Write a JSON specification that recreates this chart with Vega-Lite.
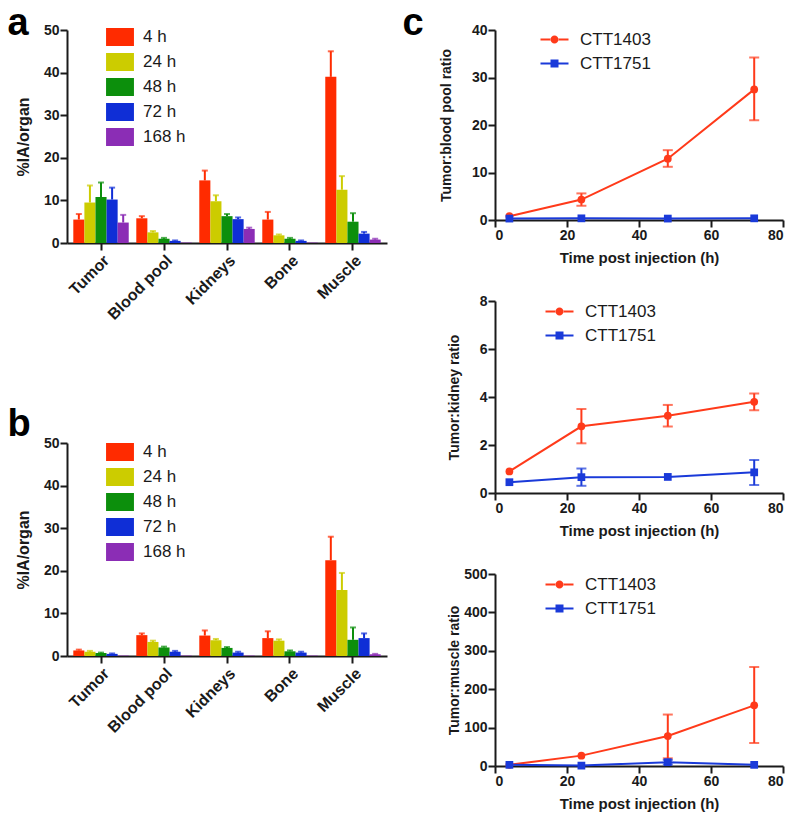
{
  "$schema": "https://vega.github.io/schema/vega-lite/v6.json",
  "padding": {"left": 7, "top": 5, "right": 2, "bottom": 5},
  "config": {
    "font": "Liberation Sans",
    "view": {"stroke": null},
    "scale": {"continuousPadding": 0},
    "axis": {
      "grid": false, "domainColor": "#1a1a1a", "domainWidth": 2, "tickColor": "#1a1a1a", "tickWidth": 2, "tickSize": 7,
      "labelFont": "Liberation Sans", "labelFontWeight": "bold", "labelFontSize": 14, "labelColor": "#1a1a1a", "labelPadding": 1,
      "titleFont": "Liberation Sans", "titleFontWeight": "bold", "titleFontSize": 15, "titleColor": "#1a1a1a"
    },
    "legend": {"labelFont": "Liberation Sans", "labelColor": "#1a1a1a", "padding": 0, "symbolOpacity": 1},
    "title": {"font": "Liberation Sans", "fontSize": 38, "fontWeight": "bold", "color": "#000000", "anchor": "start"}
  },
  "datasets": {
    "bars": [
      {"panel": "a", "organ": "Tumor", "time": "4 h", "value": 5.5, "upper": 6.8},
      {"panel": "a", "organ": "Tumor", "time": "24 h", "value": 9.5, "upper": 13.5},
      {"panel": "a", "organ": "Tumor", "time": "48 h", "value": 10.8, "upper": 14.2},
      {"panel": "a", "organ": "Tumor", "time": "72 h", "value": 10.2, "upper": 13.0},
      {"panel": "a", "organ": "Tumor", "time": "168 h", "value": 4.8, "upper": 6.6},
      {"panel": "a", "organ": "Blood pool", "time": "4 h", "value": 5.8, "upper": 6.3},
      {"panel": "a", "organ": "Blood pool", "time": "24 h", "value": 2.5, "upper": 2.8},
      {"panel": "a", "organ": "Blood pool", "time": "48 h", "value": 1.0, "upper": 1.2},
      {"panel": "a", "organ": "Blood pool", "time": "72 h", "value": 0.5, "upper": 0.6},
      {"panel": "a", "organ": "Blood pool", "time": "168 h", "value": 0.1, "upper": null},
      {"panel": "a", "organ": "Kidneys", "time": "4 h", "value": 14.7, "upper": 17.0},
      {"panel": "a", "organ": "Kidneys", "time": "24 h", "value": 9.8, "upper": 11.2},
      {"panel": "a", "organ": "Kidneys", "time": "48 h", "value": 6.3, "upper": 6.8},
      {"panel": "a", "organ": "Kidneys", "time": "72 h", "value": 5.6, "upper": 6.0},
      {"panel": "a", "organ": "Kidneys", "time": "168 h", "value": 3.3, "upper": 3.6},
      {"panel": "a", "organ": "Bone", "time": "4 h", "value": 5.5, "upper": 7.3},
      {"panel": "a", "organ": "Bone", "time": "24 h", "value": 1.8, "upper": 2.0},
      {"panel": "a", "organ": "Bone", "time": "48 h", "value": 1.0, "upper": 1.2},
      {"panel": "a", "organ": "Bone", "time": "72 h", "value": 0.5, "upper": 0.6},
      {"panel": "a", "organ": "Bone", "time": "168 h", "value": 0.1, "upper": null},
      {"panel": "a", "organ": "Muscle", "time": "4 h", "value": 39.0, "upper": 45.0},
      {"panel": "a", "organ": "Muscle", "time": "24 h", "value": 12.5, "upper": 15.7},
      {"panel": "a", "organ": "Muscle", "time": "48 h", "value": 5.0, "upper": 7.0},
      {"panel": "a", "organ": "Muscle", "time": "72 h", "value": 2.2, "upper": 2.6},
      {"panel": "a", "organ": "Muscle", "time": "168 h", "value": 0.8, "upper": 1.0},
      {"panel": "b", "organ": "Tumor", "time": "4 h", "value": 1.3, "upper": 1.5},
      {"panel": "b", "organ": "Tumor", "time": "24 h", "value": 1.0, "upper": 1.2},
      {"panel": "b", "organ": "Tumor", "time": "48 h", "value": 0.7, "upper": 0.8},
      {"panel": "b", "organ": "Tumor", "time": "72 h", "value": 0.5, "upper": 0.6},
      {"panel": "b", "organ": "Tumor", "time": "168 h", "value": 0.1, "upper": null},
      {"panel": "b", "organ": "Blood pool", "time": "4 h", "value": 4.9, "upper": 5.3},
      {"panel": "b", "organ": "Blood pool", "time": "24 h", "value": 3.3, "upper": 3.6},
      {"panel": "b", "organ": "Blood pool", "time": "48 h", "value": 2.0, "upper": 2.2},
      {"panel": "b", "organ": "Blood pool", "time": "72 h", "value": 1.0, "upper": 1.2},
      {"panel": "b", "organ": "Blood pool", "time": "168 h", "value": 0.1, "upper": null},
      {"panel": "b", "organ": "Kidneys", "time": "4 h", "value": 4.8, "upper": 6.0},
      {"panel": "b", "organ": "Kidneys", "time": "24 h", "value": 3.7, "upper": 4.0},
      {"panel": "b", "organ": "Kidneys", "time": "48 h", "value": 1.9, "upper": 2.1},
      {"panel": "b", "organ": "Kidneys", "time": "72 h", "value": 0.8, "upper": 1.0},
      {"panel": "b", "organ": "Kidneys", "time": "168 h", "value": 0.1, "upper": null},
      {"panel": "b", "organ": "Bone", "time": "4 h", "value": 4.2, "upper": 5.8},
      {"panel": "b", "organ": "Bone", "time": "24 h", "value": 3.6, "upper": 3.9},
      {"panel": "b", "organ": "Bone", "time": "48 h", "value": 1.1, "upper": 1.3},
      {"panel": "b", "organ": "Bone", "time": "72 h", "value": 0.8, "upper": 1.0},
      {"panel": "b", "organ": "Bone", "time": "168 h", "value": 0.1, "upper": null},
      {"panel": "b", "organ": "Muscle", "time": "4 h", "value": 22.5, "upper": 28.0},
      {"panel": "b", "organ": "Muscle", "time": "24 h", "value": 15.5, "upper": 19.5},
      {"panel": "b", "organ": "Muscle", "time": "48 h", "value": 3.8, "upper": 6.7},
      {"panel": "b", "organ": "Muscle", "time": "72 h", "value": 4.2, "upper": 5.3},
      {"panel": "b", "organ": "Muscle", "time": "168 h", "value": 0.4, "upper": 0.5}
    ],
    "ratios": [
      {"metric": "blood", "series": "CTT1403", "hours": 4, "value": 0.8, "lo": null, "hi": null},
      {"metric": "blood", "series": "CTT1403", "hours": 24, "value": 4.3, "lo": 3.0, "hi": 5.6},
      {"metric": "blood", "series": "CTT1403", "hours": 48, "value": 12.9, "lo": 11.2, "hi": 14.7},
      {"metric": "blood", "series": "CTT1403", "hours": 72, "value": 27.5, "lo": 21.0, "hi": 34.2},
      {"metric": "blood", "series": "CTT1751", "hours": 4, "value": 0.3, "lo": null, "hi": null},
      {"metric": "blood", "series": "CTT1751", "hours": 24, "value": 0.35, "lo": null, "hi": null},
      {"metric": "blood", "series": "CTT1751", "hours": 48, "value": 0.3, "lo": null, "hi": null},
      {"metric": "blood", "series": "CTT1751", "hours": 72, "value": 0.35, "lo": null, "hi": null},
      {"metric": "kidney", "series": "CTT1403", "hours": 4, "value": 0.9, "lo": null, "hi": null},
      {"metric": "kidney", "series": "CTT1403", "hours": 24, "value": 2.78, "lo": 2.07, "hi": 3.5},
      {"metric": "kidney", "series": "CTT1403", "hours": 48, "value": 3.22, "lo": 2.77, "hi": 3.67},
      {"metric": "kidney", "series": "CTT1403", "hours": 72, "value": 3.8, "lo": 3.45, "hi": 4.15},
      {"metric": "kidney", "series": "CTT1751", "hours": 4, "value": 0.45, "lo": null, "hi": null},
      {"metric": "kidney", "series": "CTT1751", "hours": 24, "value": 0.66, "lo": 0.3, "hi": 1.02},
      {"metric": "kidney", "series": "CTT1751", "hours": 48, "value": 0.67, "lo": null, "hi": null},
      {"metric": "kidney", "series": "CTT1751", "hours": 72, "value": 0.86, "lo": 0.33, "hi": 1.38},
      {"metric": "muscle", "series": "CTT1403", "hours": 4, "value": 3, "lo": null, "hi": null},
      {"metric": "muscle", "series": "CTT1403", "hours": 24, "value": 27, "lo": null, "hi": null},
      {"metric": "muscle", "series": "CTT1403", "hours": 48, "value": 78, "lo": 20, "hi": 134},
      {"metric": "muscle", "series": "CTT1403", "hours": 72, "value": 158, "lo": 60, "hi": 258},
      {"metric": "muscle", "series": "CTT1751", "hours": 4, "value": 3, "lo": null, "hi": null},
      {"metric": "muscle", "series": "CTT1751", "hours": 24, "value": 1, "lo": null, "hi": null},
      {"metric": "muscle", "series": "CTT1751", "hours": 48, "value": 10, "lo": 4, "hi": 16},
      {"metric": "muscle", "series": "CTT1751", "hours": 72, "value": 3, "lo": null, "hi": null}
    ]
  },
  "resolve": {"scale": {"color": "independent", "shape": "independent", "fill": "independent", "stroke": "independent"}, "legend": {"color": "independent", "shape": "independent"}},
  "spacing": 15,
  "hconcat": [
    {
      "spacing": 83,
      "resolve": {"scale": {"color": "independent"}, "legend": {"color": "independent"}},
      "vconcat": [
        {
          "title": {"text": "a", "dx": -8, "offset": -20},
          "width": 320, "height": 213,
          "data": {"name": "bars"},
          "transform": [{"filter": "datum.panel == 'a'"}],
          "encoding": {
            "x": {"field": "organ", "type": "nominal", "sort": ["Tumor", "Blood pool", "Kidneys", "Bone", "Muscle"], "scale": {"paddingInner": 0.12, "paddingOuter": 0.1}, "axis": {"title": null, "labelAngle": -45, "labelFontSize": 16, "labelPadding": 2}},
            "xOffset": {"field": "time", "type": "nominal", "sort": ["4 h", "24 h", "48 h", "72 h", "168 h"], "scale": {"paddingInner": 0, "paddingOuter": 0}},
            "color": {"field": "time", "type": "nominal", "sort": ["4 h", "24 h", "48 h", "72 h", "168 h"],
              "scale": {"domain": ["4 h", "24 h", "48 h", "72 h", "168 h"], "range": ["#ff2b00", "#cccc00", "#0c8f0c", "#0f2ed6", "#8b2db5"]},
              "legend": {"orient": "none", "legendX": 44, "legendY": -2, "title": null, "symbolType": "M-1.55,-1H1.55V1H-1.55Z", "symbolSize": 324, "symbolStrokeWidth": 0, "labelOffset": 14, "labelFontSize": 17, "rowPadding": 7}}
          },
          "layer": [
            {"mark": {"type": "bar"}, "encoding": {"y": {"field": "value", "type": "quantitative", "scale": {"domain": [0, 50]}, "axis": {"values": [0, 10, 20, 30, 40, 50], "title": "%IA/organ", "titleFontSize": 16, "titlePadding": 12}}}},
            {"mark": {"type": "rule", "strokeWidth": 2}, "encoding": {"y": {"field": "value", "type": "quantitative", "axis": {"values": [0, 10, 20, 30, 40, 50], "title": "%IA/organ", "titleFontSize": 16, "titlePadding": 12}}, "y2": {"field": "upper"}}},
            {"mark": {"type": "tick", "thickness": 2, "size": 6, "orient": "horizontal"}, "encoding": {"y": {"field": "upper", "type": "quantitative", "axis": {"values": [0, 10, 20, 30, 40, 50], "title": "%IA/organ", "titleFontSize": 16, "titlePadding": 12}}}}
          ]
        },
        {
          "title": {"text": "b", "dx": -8, "offset": -8},
          "width": 320, "height": 213,
          "data": {"name": "bars"},
          "transform": [{"filter": "datum.panel == 'b'"}],
          "encoding": {
            "x": {"field": "organ", "type": "nominal", "sort": ["Tumor", "Blood pool", "Kidneys", "Bone", "Muscle"], "scale": {"paddingInner": 0.12, "paddingOuter": 0.1}, "axis": {"title": null, "labelAngle": -45, "labelFontSize": 16, "labelPadding": 2}},
            "xOffset": {"field": "time", "type": "nominal", "sort": ["4 h", "24 h", "48 h", "72 h", "168 h"], "scale": {"paddingInner": 0, "paddingOuter": 0}},
            "color": {"field": "time", "type": "nominal", "sort": ["4 h", "24 h", "48 h", "72 h", "168 h"],
              "scale": {"domain": ["4 h", "24 h", "48 h", "72 h", "168 h"], "range": ["#ff2b00", "#cccc00", "#0c8f0c", "#0f2ed6", "#8b2db5"]},
              "legend": {"orient": "none", "legendX": 44, "legendY": 0, "title": null, "symbolType": "M-1.55,-1H1.55V1H-1.55Z", "symbolSize": 324, "symbolStrokeWidth": 0, "labelOffset": 14, "labelFontSize": 17, "rowPadding": 7}}
          },
          "layer": [
            {"mark": {"type": "bar"}, "encoding": {"y": {"field": "value", "type": "quantitative", "scale": {"domain": [0, 50]}, "axis": {"values": [0, 10, 20, 30, 40, 50], "title": "%IA/organ", "titleFontSize": 16, "titlePadding": 12}}}},
            {"mark": {"type": "rule", "strokeWidth": 2}, "encoding": {"y": {"field": "value", "type": "quantitative", "axis": {"values": [0, 10, 20, 30, 40, 50], "title": "%IA/organ", "titleFontSize": 16, "titlePadding": 12}}, "y2": {"field": "upper"}}},
            {"mark": {"type": "tick", "thickness": 2, "size": 6, "orient": "horizontal"}, "encoding": {"y": {"field": "upper", "type": "quantitative", "axis": {"values": [0, 10, 20, 30, 40, 50], "title": "%IA/organ", "titleFontSize": 16, "titlePadding": 12}}}}
          ]
        }
      ]
    },
    {
      "spacing": 29,
      "resolve": {"scale": {"color": "independent", "shape": "independent", "fill": "independent", "stroke": "independent"}, "legend": {"color": "independent", "shape": "independent"}},
      "vconcat": [
        {
          "title": {"text": "c", "dx": -37, "offset": -20},
          "width": 288, "height": 190,
          "data": {"name": "ratios"},
          "transform": [{"filter": "datum.metric == 'blood'"}],
          "encoding": {
            "x": {"field": "hours", "type": "quantitative", "scale": {"domain": [0, 80]}, "axis": {"values": [0, 20, 40, 60, 80], "title": "Time post injection (h)", "titleFontSize": 15, "titlePadding": 8}}
          },
          "layer": [
            {"mark": {"type": "line", "strokeWidth": 2}, "encoding": {"y": {"field": "value", "type": "quantitative", "scale": {"domain": [0, 40]}, "axis": {"values": [0, 10, 20, 30, 40], "title": "Tumor:blood pool ratio", "titleFontSize": 14, "titlePadding": 18}}, "stroke": {"field": "series", "type": "nominal", "scale": {"range": ["#ff3a1a", "#1a3ad9"]}, "legend": null}}},
            {"mark": {"type": "rule", "strokeWidth": 2}, "encoding": {"y": {"field": "lo", "type": "quantitative", "axis": {"values": [0, 10, 20, 30, 40], "title": "Tumor:blood pool ratio", "titleFontSize": 14, "titlePadding": 18}}, "y2": {"field": "hi"}, "stroke": {"field": "series", "type": "nominal", "legend": null}}},
            {"mark": {"type": "tick", "thickness": 2, "size": 10, "orient": "horizontal"}, "encoding": {"y": {"field": "lo", "type": "quantitative", "axis": {"values": [0, 10, 20, 30, 40], "title": "Tumor:blood pool ratio", "titleFontSize": 14, "titlePadding": 18}}, "fill": {"field": "series", "type": "nominal", "scale": {"range": ["#ff3a1a", "#1a3ad9"]}, "legend": null}}},
            {"mark": {"type": "tick", "thickness": 2, "size": 10, "orient": "horizontal"}, "encoding": {"y": {"field": "hi", "type": "quantitative", "axis": {"values": [0, 10, 20, 30, 40], "title": "Tumor:blood pool ratio", "titleFontSize": 14, "titlePadding": 18}}, "fill": {"field": "series", "type": "nominal", "legend": null}}},
            {"transform": [{"filter": "datum.series == 'CTT1403'"}], "mark": {"type": "point", "shape": "circle", "filled": true, "size": 60, "opacity": 1}, "encoding": {"y": {"field": "value", "type": "quantitative", "axis": {"values": [0, 10, 20, 30, 40], "title": "Tumor:blood pool ratio", "titleFontSize": 14, "titlePadding": 18}}, "fill": {"field": "series", "type": "nominal", "legend": null}}},
            {"transform": [{"filter": "datum.series == 'CTT1751'"}], "mark": {"type": "point", "shape": "square", "filled": true, "size": 60, "opacity": 1}, "encoding": {"y": {"field": "value", "type": "quantitative", "axis": {"values": [0, 10, 20, 30, 40], "title": "Tumor:blood pool ratio", "titleFontSize": 14, "titlePadding": 18}}, "fill": {"field": "series", "type": "nominal", "legend": null}}},
            {"transform": [{"filter": "false"}], "mark": {"type": "point", "filled": true, "size": 64, "opacity": 1},
              "encoding": {
                "y": {"field": "value", "type": "quantitative", "axis": {"values": [0, 10, 20, 30, 40], "title": "Tumor:blood pool ratio", "titleFontSize": 14, "titlePadding": 18}},
                "color": {"field": "series", "type": "nominal", "scale": {"domain": ["CTT1403", "CTT1751"], "range": ["#ff3a1a", "#1a3ad9"]}, "legend": {"orient": "none", "legendX": 51, "legendY": 1, "title": null, "symbolSize": 64, "symbolStrokeWidth": 0, "labelOffset": 17, "labelFontSize": 17, "rowPadding": 6}},
                "shape": {"field": "series", "type": "nominal", "scale": {"domain": ["CTT1403", "CTT1751"], "range": ["M-3.5,-0.25H-0.9V0.25H-3.5ZM0.9,-0.25H3.5V0.25H0.9ZM-1,0A1,1 0 1,0 1,0A1,1 0 1,0 -1,0Z", "M-3.5,-0.25H-0.9V0.25H-3.5ZM0.9,-0.25H3.5V0.25H0.9ZM-1,-1H1V1H-1Z"]}, "legend": {"orient": "none", "legendX": 51, "legendY": 1, "title": null, "symbolSize": 64, "symbolStrokeWidth": 0, "labelOffset": 17, "labelFontSize": 17, "rowPadding": 6}}
              }}
          ]
        },
        {
          "width": 288, "height": 192,
          "data": {"name": "ratios"},
          "transform": [{"filter": "datum.metric == 'kidney'"}],
          "encoding": {
            "x": {"field": "hours", "type": "quantitative", "scale": {"domain": [0, 80]}, "axis": {"values": [0, 20, 40, 60, 80], "title": "Time post injection (h)", "titleFontSize": 15, "titlePadding": 8}}
          },
          "layer": [
            {"mark": {"type": "line", "strokeWidth": 2}, "encoding": {"y": {"field": "value", "type": "quantitative", "scale": {"domain": [0, 8]}, "axis": {"values": [0, 2, 4, 6, 8], "title": "Tumor:kidney ratio", "titleFontSize": 14, "titlePadding": 18}}, "stroke": {"field": "series", "type": "nominal", "scale": {"range": ["#ff3a1a", "#1a3ad9"]}, "legend": null}}},
            {"mark": {"type": "rule", "strokeWidth": 2}, "encoding": {"y": {"field": "lo", "type": "quantitative", "axis": {"values": [0, 2, 4, 6, 8], "title": "Tumor:kidney ratio", "titleFontSize": 14, "titlePadding": 18}}, "y2": {"field": "hi"}, "stroke": {"field": "series", "type": "nominal", "legend": null}}},
            {"mark": {"type": "tick", "thickness": 2, "size": 10, "orient": "horizontal"}, "encoding": {"y": {"field": "lo", "type": "quantitative", "axis": {"values": [0, 2, 4, 6, 8], "title": "Tumor:kidney ratio", "titleFontSize": 14, "titlePadding": 18}}, "fill": {"field": "series", "type": "nominal", "scale": {"range": ["#ff3a1a", "#1a3ad9"]}, "legend": null}}},
            {"mark": {"type": "tick", "thickness": 2, "size": 10, "orient": "horizontal"}, "encoding": {"y": {"field": "hi", "type": "quantitative", "axis": {"values": [0, 2, 4, 6, 8], "title": "Tumor:kidney ratio", "titleFontSize": 14, "titlePadding": 18}}, "fill": {"field": "series", "type": "nominal", "legend": null}}},
            {"transform": [{"filter": "datum.series == 'CTT1403'"}], "mark": {"type": "point", "shape": "circle", "filled": true, "size": 60, "opacity": 1}, "encoding": {"y": {"field": "value", "type": "quantitative", "axis": {"values": [0, 2, 4, 6, 8], "title": "Tumor:kidney ratio", "titleFontSize": 14, "titlePadding": 18}}, "fill": {"field": "series", "type": "nominal", "legend": null}}},
            {"transform": [{"filter": "datum.series == 'CTT1751'"}], "mark": {"type": "point", "shape": "square", "filled": true, "size": 60, "opacity": 1}, "encoding": {"y": {"field": "value", "type": "quantitative", "axis": {"values": [0, 2, 4, 6, 8], "title": "Tumor:kidney ratio", "titleFontSize": 14, "titlePadding": 18}}, "fill": {"field": "series", "type": "nominal", "legend": null}}},
            {"transform": [{"filter": "false"}], "mark": {"type": "point", "filled": true, "size": 64, "opacity": 1},
              "encoding": {
                "y": {"field": "value", "type": "quantitative", "axis": {"values": [0, 2, 4, 6, 8], "title": "Tumor:kidney ratio", "titleFontSize": 14, "titlePadding": 18}},
                "color": {"field": "series", "type": "nominal", "scale": {"domain": ["CTT1403", "CTT1751"], "range": ["#ff3a1a", "#1a3ad9"]}, "legend": {"orient": "none", "legendX": 56, "legendY": 2, "title": null, "symbolSize": 64, "symbolStrokeWidth": 0, "labelOffset": 17, "labelFontSize": 17, "rowPadding": 6}},
                "shape": {"field": "series", "type": "nominal", "scale": {"domain": ["CTT1403", "CTT1751"], "range": ["M-3.5,-0.25H-0.9V0.25H-3.5ZM0.9,-0.25H3.5V0.25H0.9ZM-1,0A1,1 0 1,0 1,0A1,1 0 1,0 -1,0Z", "M-3.5,-0.25H-0.9V0.25H-3.5ZM0.9,-0.25H3.5V0.25H0.9ZM-1,-1H1V1H-1Z"]}, "legend": {"orient": "none", "legendX": 56, "legendY": 2, "title": null, "symbolSize": 64, "symbolStrokeWidth": 0, "labelOffset": 17, "labelFontSize": 17, "rowPadding": 6}}
              }}
          ]
        },
        {
          "width": 288, "height": 192,
          "data": {"name": "ratios"},
          "transform": [{"filter": "datum.metric == 'muscle'"}],
          "encoding": {
            "x": {"field": "hours", "type": "quantitative", "scale": {"domain": [0, 80]}, "axis": {"values": [0, 20, 40, 60, 80], "title": "Time post injection (h)", "titleFontSize": 15, "titlePadding": 8}}
          },
          "layer": [
            {"mark": {"type": "line", "strokeWidth": 2}, "encoding": {"y": {"field": "value", "type": "quantitative", "scale": {"domain": [0, 500]}, "axis": {"values": [0, 100, 200, 300, 400, 500], "title": "Tumor:muscle ratio", "titleFontSize": 14, "titlePadding": 2}}, "stroke": {"field": "series", "type": "nominal", "scale": {"range": ["#ff3a1a", "#1a3ad9"]}, "legend": null}}},
            {"mark": {"type": "rule", "strokeWidth": 2}, "encoding": {"y": {"field": "lo", "type": "quantitative", "axis": {"values": [0, 100, 200, 300, 400, 500], "title": "Tumor:muscle ratio", "titleFontSize": 14, "titlePadding": 2}}, "y2": {"field": "hi"}, "stroke": {"field": "series", "type": "nominal", "legend": null}}},
            {"mark": {"type": "tick", "thickness": 2, "size": 10, "orient": "horizontal"}, "encoding": {"y": {"field": "lo", "type": "quantitative", "axis": {"values": [0, 100, 200, 300, 400, 500], "title": "Tumor:muscle ratio", "titleFontSize": 14, "titlePadding": 2}}, "fill": {"field": "series", "type": "nominal", "scale": {"range": ["#ff3a1a", "#1a3ad9"]}, "legend": null}}},
            {"mark": {"type": "tick", "thickness": 2, "size": 10, "orient": "horizontal"}, "encoding": {"y": {"field": "hi", "type": "quantitative", "axis": {"values": [0, 100, 200, 300, 400, 500], "title": "Tumor:muscle ratio", "titleFontSize": 14, "titlePadding": 2}}, "fill": {"field": "series", "type": "nominal", "legend": null}}},
            {"transform": [{"filter": "datum.series == 'CTT1403'"}], "mark": {"type": "point", "shape": "circle", "filled": true, "size": 60, "opacity": 1}, "encoding": {"y": {"field": "value", "type": "quantitative", "axis": {"values": [0, 100, 200, 300, 400, 500], "title": "Tumor:muscle ratio", "titleFontSize": 14, "titlePadding": 2}}, "fill": {"field": "series", "type": "nominal", "legend": null}}},
            {"transform": [{"filter": "datum.series == 'CTT1751'"}], "mark": {"type": "point", "shape": "square", "filled": true, "size": 60, "opacity": 1}, "encoding": {"y": {"field": "value", "type": "quantitative", "axis": {"values": [0, 100, 200, 300, 400, 500], "title": "Tumor:muscle ratio", "titleFontSize": 14, "titlePadding": 2}}, "fill": {"field": "series", "type": "nominal", "legend": null}}},
            {"transform": [{"filter": "false"}], "mark": {"type": "point", "filled": true, "size": 64, "opacity": 1},
              "encoding": {
                "y": {"field": "value", "type": "quantitative", "axis": {"values": [0, 100, 200, 300, 400, 500], "title": "Tumor:muscle ratio", "titleFontSize": 14, "titlePadding": 2}},
                "color": {"field": "series", "type": "nominal", "scale": {"domain": ["CTT1403", "CTT1751"], "range": ["#ff3a1a", "#1a3ad9"]}, "legend": {"orient": "none", "legendX": 56, "legendY": 2, "title": null, "symbolSize": 64, "symbolStrokeWidth": 0, "labelOffset": 17, "labelFontSize": 17, "rowPadding": 6}},
                "shape": {"field": "series", "type": "nominal", "scale": {"domain": ["CTT1403", "CTT1751"], "range": ["M-3.5,-0.25H-0.9V0.25H-3.5ZM0.9,-0.25H3.5V0.25H0.9ZM-1,0A1,1 0 1,0 1,0A1,1 0 1,0 -1,0Z", "M-3.5,-0.25H-0.9V0.25H-3.5ZM0.9,-0.25H3.5V0.25H0.9ZM-1,-1H1V1H-1Z"]}, "legend": {"orient": "none", "legendX": 56, "legendY": 2, "title": null, "symbolSize": 64, "symbolStrokeWidth": 0, "labelOffset": 17, "labelFontSize": 17, "rowPadding": 6}}
              }}
          ]
        }
      ]
    }
  ]
}
